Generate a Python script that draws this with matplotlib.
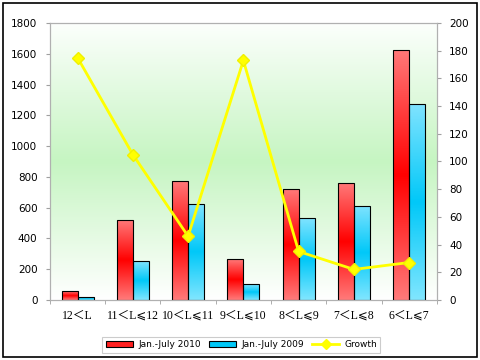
import numpy as np
import matplotlib.pyplot as plt
from matplotlib.colors import LinearSegmentedColormap
from matplotlib.patches import Rectangle, Patch
from matplotlib.lines import Line2D

categories = ['12＜L', '11＜L⩽12', '10＜L⩽11', '9＜L⩽10', '8＜L⩽9', '7＜L⩽8', '6＜L⩽7']
sales_2010 = [55, 520, 770, 265, 720, 757, 1625]
sales_2009 = [18, 253, 626, 102, 533, 613, 1271]
growth = [175, 105, 46, 173, 35, 22, 27]

fig = plt.figure(figsize=(4.8, 3.6), dpi=100)
ax = fig.add_axes([0.104, 0.167, 0.806, 0.769])

# soft green background, white at top and bottom
bg = LinearSegmentedColormap.from_list('bg', ['#fcfffc', '#c6f5c2', '#ffffff'])
ax.imshow(np.linspace(0, 1, 256).reshape(-1, 1), cmap=bg, aspect='auto',
          extent=[0, 1, 0, 1], transform=ax.transAxes, zorder=0)

red_cm = LinearSegmentedColormap.from_list('r', ['#ff7878', '#ff0000', '#ff7a7a'])
blue_cm = LinearSegmentedColormap.from_list('b', ['#7fe3ff', '#00c8f8', '#80e6ff'])

x = np.arange(len(categories))
w = 0.29
bars1 = ax.bar(x - w / 2, sales_2010, w, color='#ff2020', edgecolor='black', linewidth=0.8, zorder=2)
bars2 = ax.bar(x + w / 2, sales_2009, w, color='#00c8f8', edgecolor='black', linewidth=0.8, zorder=2)

grad = np.linspace(0, 1, 128).reshape(-1, 1)
for bars, cm in [(bars1, red_cm), (bars2, blue_cm)]:
    for b in bars:
        x0, h = b.get_x(), b.get_height()
        im = ax.imshow(grad, cmap=cm, aspect='auto',
                       extent=[x0, x0 + b.get_width(), 0, h], zorder=2.5)
        im.set_clip_path(b)
        b.set_facecolor('none')
        b.set_zorder(3)

ax.set_xlim(-0.5, len(categories) - 0.5)
ax.set_ylim(0, 1800)
ax.set_yticks(range(0, 1801, 200))
ax.set_xticks(x)
ax.set_xticklabels(categories, family=['Liberation Serif', 'Noto Sans CJK SC', 'DejaVu Sans'], fontsize=8.5)
ax.set_xticks(np.arange(-0.5, len(categories)), minor=True)
ax.tick_params(axis='x', which='major', length=0, pad=7)
ax.tick_params(axis='x', which='minor', length=3, color='#a0a0a0')
ax.tick_params(axis='y', length=3, color='#a0a0a0', labelsize=7.5, pad=6)
for s in ax.spines.values():
    s.set_color('#b0b0b0')

ax2 = ax.twinx()
ax2.plot(x, growth, color='#ffff00', linewidth=2, marker='D', markersize=6,
         markeredgecolor='#f0f000', zorder=4)
ax2.set_ylim(0, 200)
ax2.set_yticks(range(0, 201, 20))
ax2.tick_params(axis='y', length=3, color='#a0a0a0', labelsize=7.5, pad=6)
for s in ax2.spines.values():
    s.set_color('#b0b0b0')

handles = [Patch(facecolor='#ff2020', edgecolor='black', linewidth=0.8),
           Patch(facecolor='#00c8f8', edgecolor='black', linewidth=0.8),
           Line2D([], [], color='#ffff00', linewidth=2, marker='D', markersize=5)]
leg = fig.legend(handles, ['Jan.-July 2010', 'Jan.-July 2009', 'Growth'],
                 loc='center', bbox_to_anchor=(0.503, 0.042), ncol=3, fontsize=6.5,
                 frameon=True, fancybox=False, handlelength=3.0, handleheight=0.7,
                 columnspacing=0.9, handletextpad=0.6, borderpad=0.35)
leg.get_frame().set_edgecolor('#c0c0c0')
leg.get_frame().set_linewidth(0.8)

fig.patches.append(Rectangle((0.006, 0.008), 0.988, 0.984, transform=fig.transFigure,
                             fill=False, edgecolor='black', linewidth=1.2))

fig.savefig('out.png', dpi=100)
